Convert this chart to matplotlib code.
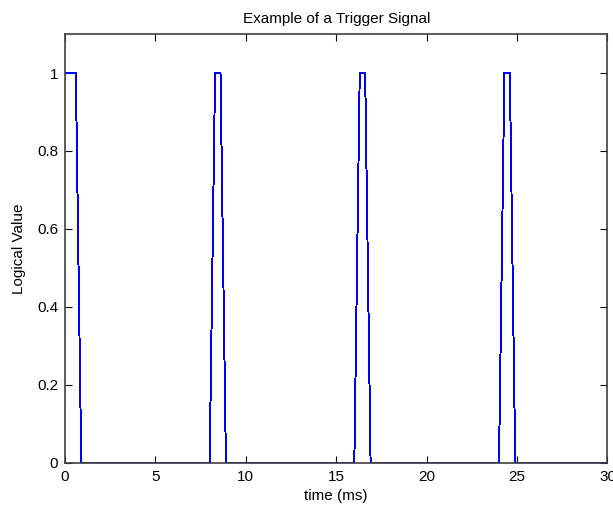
import matplotlib
matplotlib.use('Agg')
import matplotlib.pyplot as plt

plt.rcParams['font.family'] = ['Liberation Sans', 'DejaVu Sans']

# trigger signal samples (time in ms, logical value)
t = [0, 0.6, 0.9, 8.0, 8.3, 8.6, 8.9, 16.0, 16.3, 16.6, 16.9, 24.0, 24.3, 24.6, 24.9, 30]
v = [1, 1, 0, 0, 1, 1, 0, 0, 1, 1, 0, 0, 1, 1, 0, 0]

xticks = [0, 5, 10, 15, 20, 25, 30]
yticks = [0, 0.2, 0.4, 0.6, 0.8, 1]
ytick_labels = ['0', '0.2', '0.4', '0.6', '0.8', '1']

fs = 11

fig = plt.figure(figsize=(6.13, 5.08), dpi=100)
ax = fig.add_axes([0.106, 0.089, 0.885, 0.844])
ax.plot(t, v, color='blue', linewidth=0.7, antialiased=False)
ax.set_xlim(0, 30)
ax.set_ylim(0, 1.1)
ax.set_xticks(xticks)
ax.set_yticks(yticks)
ax.set_yticklabels(ytick_labels)
ax.tick_params(direction='in', top=True, right=True, length=5, labelsize=fs, pad=5)
for s in ax.spines.values():
    s.set_color('#404040')
    s.set_linewidth(1.2)
    s.set_zorder(5)
ax.set_xlabel('time (ms)', fontsize=fs, labelpad=4)
ax.set_ylabel('Logical Value', fontsize=fs, labelpad=8)
ax.set_title('Example of a Trigger Signal', fontsize=fs, pad=8)

fig.savefig('out.png', dpi=100)
